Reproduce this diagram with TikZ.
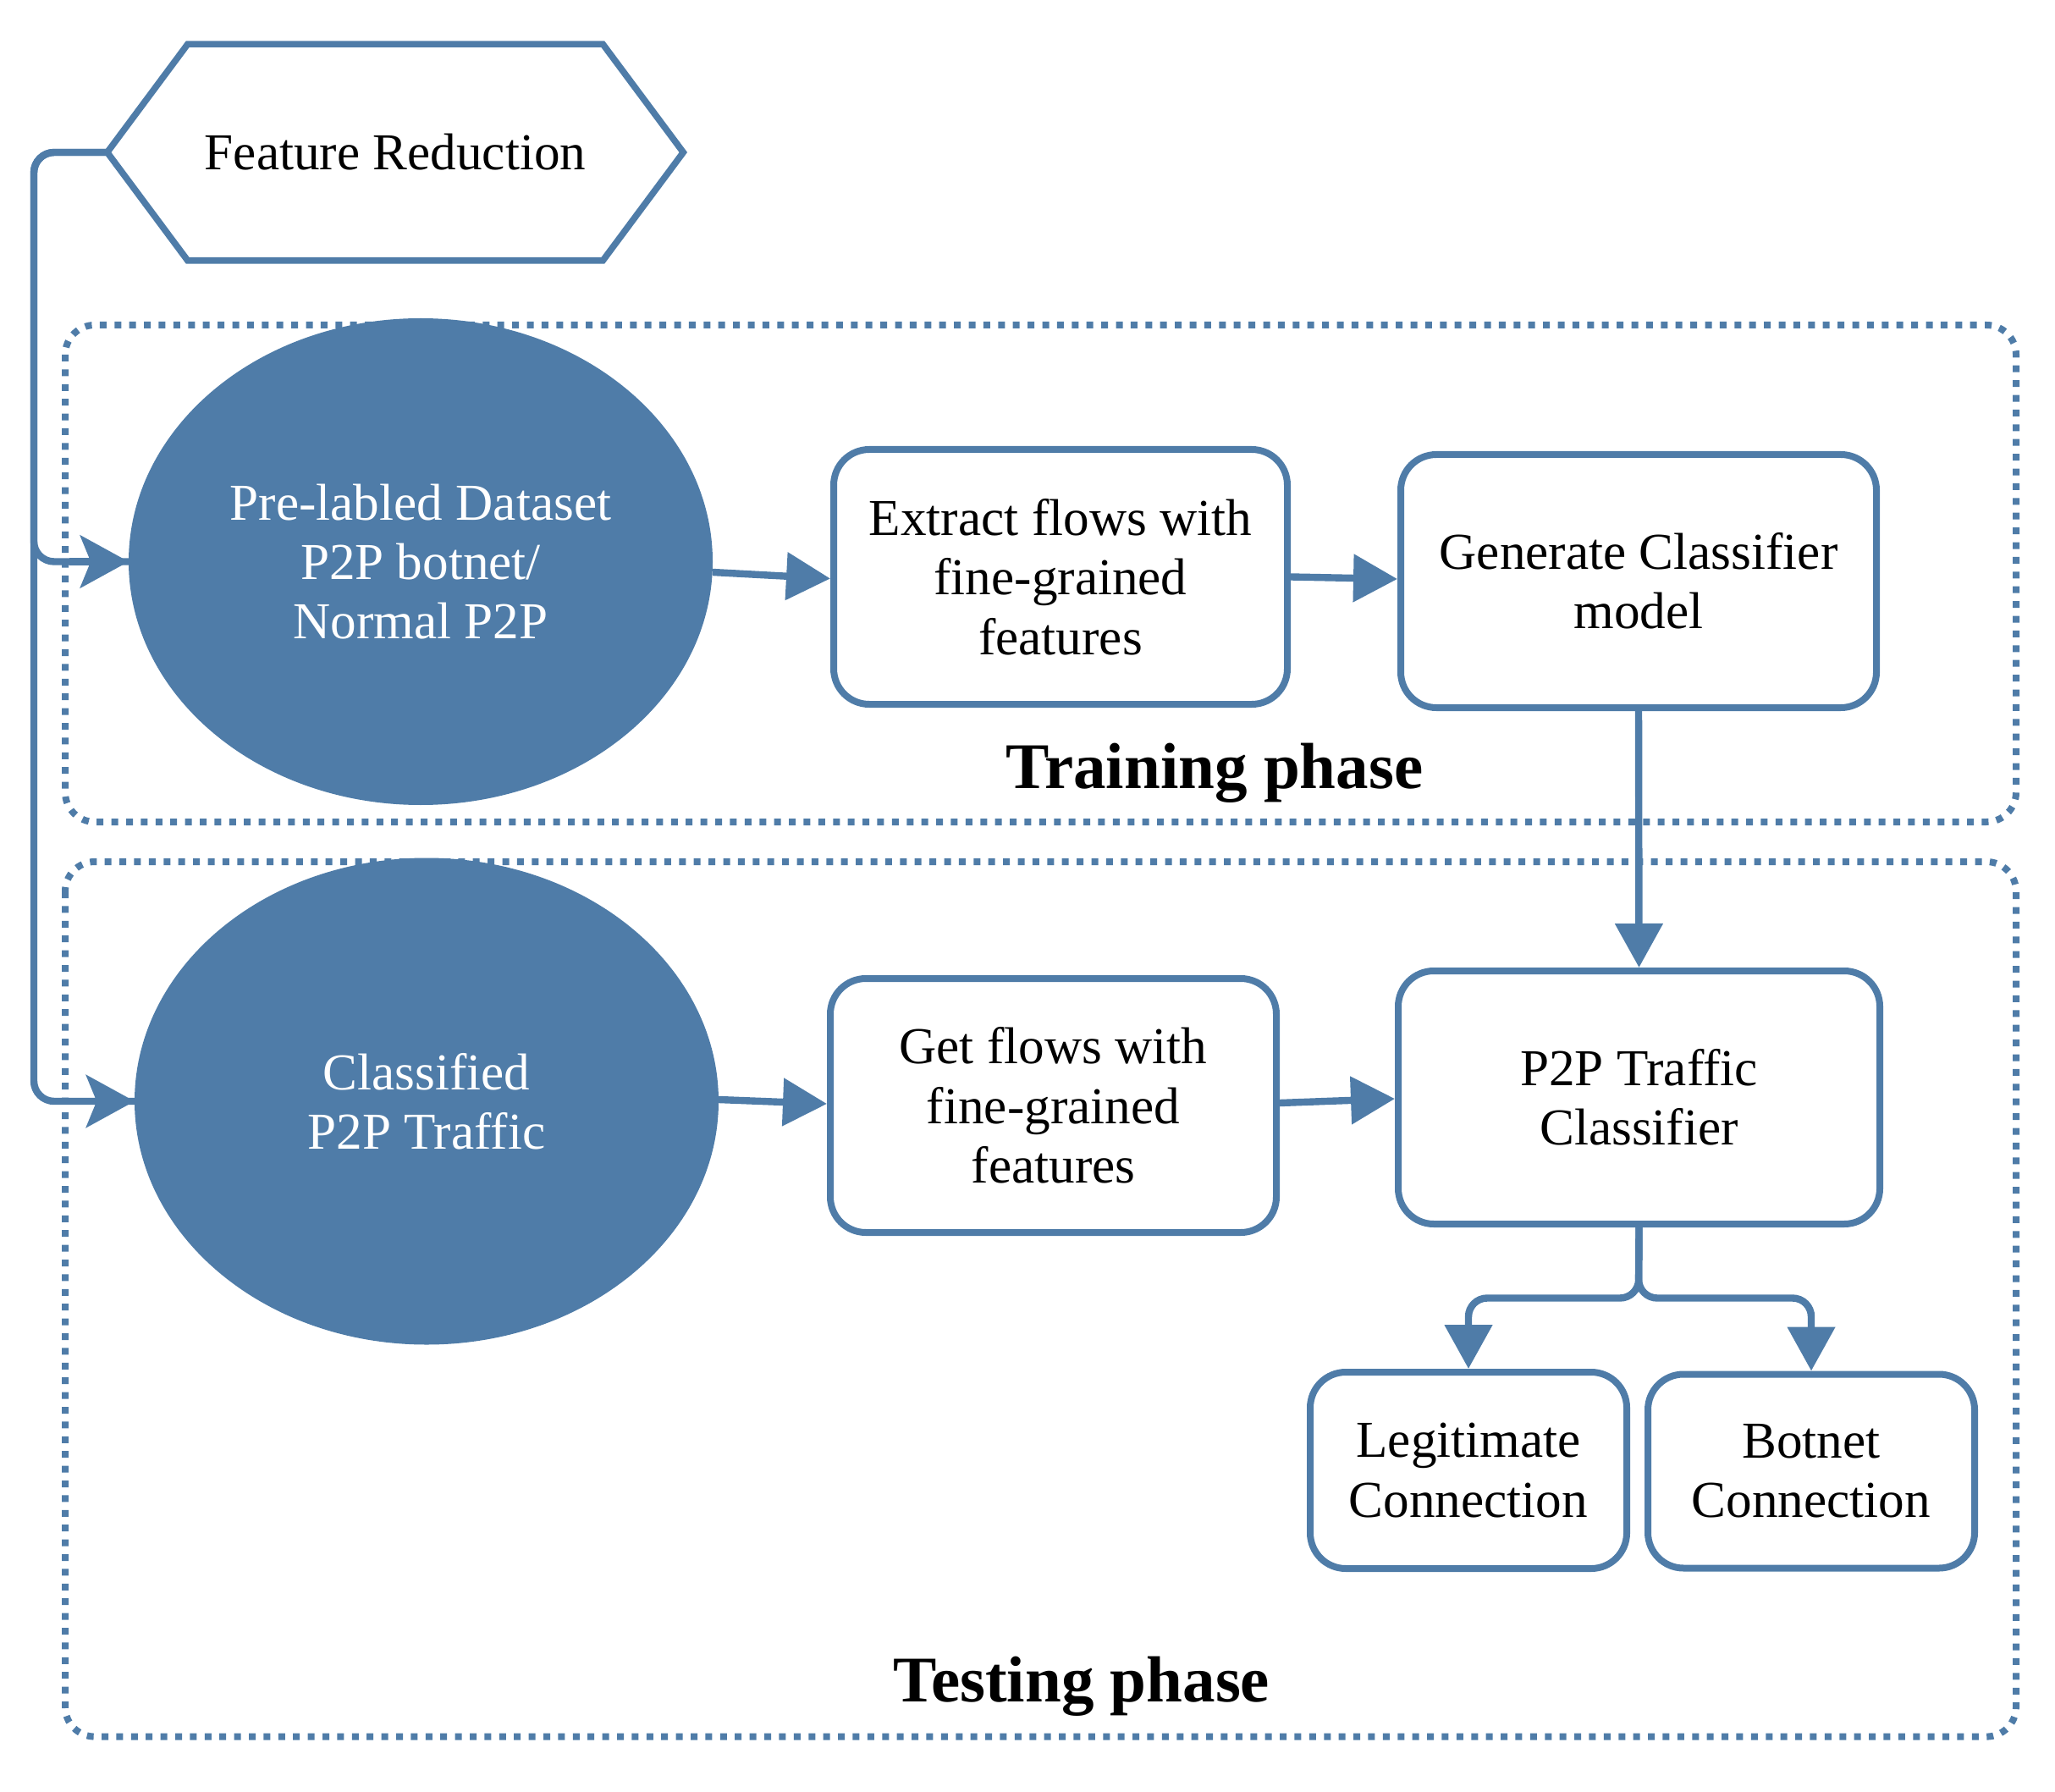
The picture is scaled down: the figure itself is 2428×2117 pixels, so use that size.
\documentclass[tikz,border=0pt]{standalone}
\usepackage{fontspec}
\setmainfont{Liberation Serif}
\usetikzlibrary{shapes.geometric,arrows.meta,calc}
\definecolor{blu}{RGB}{79,124,168}
\tikzset{
  txt/.style={font=\fontsize{15.3pt}{17.6pt}\selectfont, align=center, text=black},
  phase/.style={font=\fontsize{19.25pt}{22pt}\selectfont\bfseries, anchor=base, text=black},
  procbox/.style={txt, draw=blu, line width=2pt, rounded corners=10.5pt, inner sep=0pt, fill=white},
  blob/.style={txt, ellipse, fill=blu, draw=blu, line width=0.5pt, text=white, inner sep=0pt,
               minimum width=172pt, minimum height=143.25pt},
  conn/.style={draw=blu, line width=2.1pt},
  tri/.style={-{Triangle[length=13pt,width=13.75pt]}},
  stl/.style={-{Stealth[length=14.3pt,width=15.5pt,inset=3.1pt]}},
  dotbox/.style={draw=blu, line width=2pt, dash pattern=on 2pt off 2.35pt, rounded corners=8.75pt},
}
\begin{document}
\begin{tikzpicture}[x=0.25pt,y=-0.25pt]
\useasboundingbox (0,0) rectangle (2428,2117);

% phase frames
\draw[dotbox] (77,384) rectangle (2382,971);
\draw[dotbox] (77,1018) rectangle (2382,2051.6);

% feature reduction hexagon
\node[txt, minimum width=169.75pt, minimum height=63.5pt, inner sep=0pt] (hex) at (467,180) {Feature Reduction};
\draw[draw=blu, line width=1.9pt, line join=miter]
  (hex.west) -- ($(hex.north west)+(95,0)$) -- ($(hex.north east)+(-95,0)$) -- (hex.east)
  -- ($(hex.south east)+(-95,0)$) -- ($(hex.south west)+(95,0)$) -- cycle;

% training
\node[blob] (e1) at (497,663.5) {Pre-labled Dataset\\P2P botnet/\\Normal P2P};
\node[procbox, minimum width=134pt, minimum height=75.25pt] (ext) at (1253,681.5) {Extract flows with\\fine-grained\\features};
\node[procbox, minimum width=140.5pt, minimum height=74.75pt] (gen) at (1936,686.5) {Generate Classifier\\model};
\node[phase] (trainlbl) at (1435,931) {Training phase};

% testing
\node[blob] (e2) at (504,1301) {Classified\\P2P Traffic};
\node[procbox, minimum width=131.75pt, minimum height=75pt] (gf) at (1244.5,1306) {Get flows with\\fine-grained\\features};
\node[procbox, minimum width=142.25pt, minimum height=74.75pt] (cls) at (1936.5,1296.5) {P2P Traffic\\Classifier};
\node[procbox, minimum width=93.5pt, minimum height=58pt] (legit) at (1735,1737) {Legitimate\\Connection};
\node[procbox, minimum width=96.5pt, minimum height=57.25pt] (bot) at (2140,1738) {Botnet\\Connection};
\node[phase] (testlbl) at (1278,2010) {Testing phase};

% connectors
\coordinate (lc1) at (40,180);
\coordinate (b1) at (40,663.5);
\coordinate (b2) at (40,1301);
\draw[conn, rounded corners=6pt] (hex.west) -- (lc1) -- (b1) -- (e1.west);
\draw[conn, rounded corners=6pt] (hex.west) -- (lc1) -- (b2) -- (e2.west);
\draw[conn, stl] ($(e1.west)+(-70,0)$) -- (e1.west);
\draw[conn, stl] ($(e2.west)+(-70,0)$) -- (e2.west);

\draw[conn, tri] ($(e1.east)+(0,12.5)$) -- ($(ext.west)+(0,2)$);
\draw[conn, tri] (ext.east) -- ($(gen.west)+(0,-2.5)$);
\draw[conn, tri] (gen.south) -- (cls.north);
\draw[conn, tri] ($(e2.east)+(0,-2)$) -- ($(gf.west)+(0,-2)$);
\draw[conn, tri] ($(gf.east)+(0,-3)$) -- ($(cls.west)+(0,1.5)$);

\coordinate (fork) at (1936,1533.5);
\draw[conn, tri, rounded corners=5.5pt] (cls.south) -- (fork) -| (legit.north);
\draw[conn, tri, rounded corners=5.5pt] (cls.south) -- (fork) -| (bot.north);
\end{tikzpicture}
\end{document}
